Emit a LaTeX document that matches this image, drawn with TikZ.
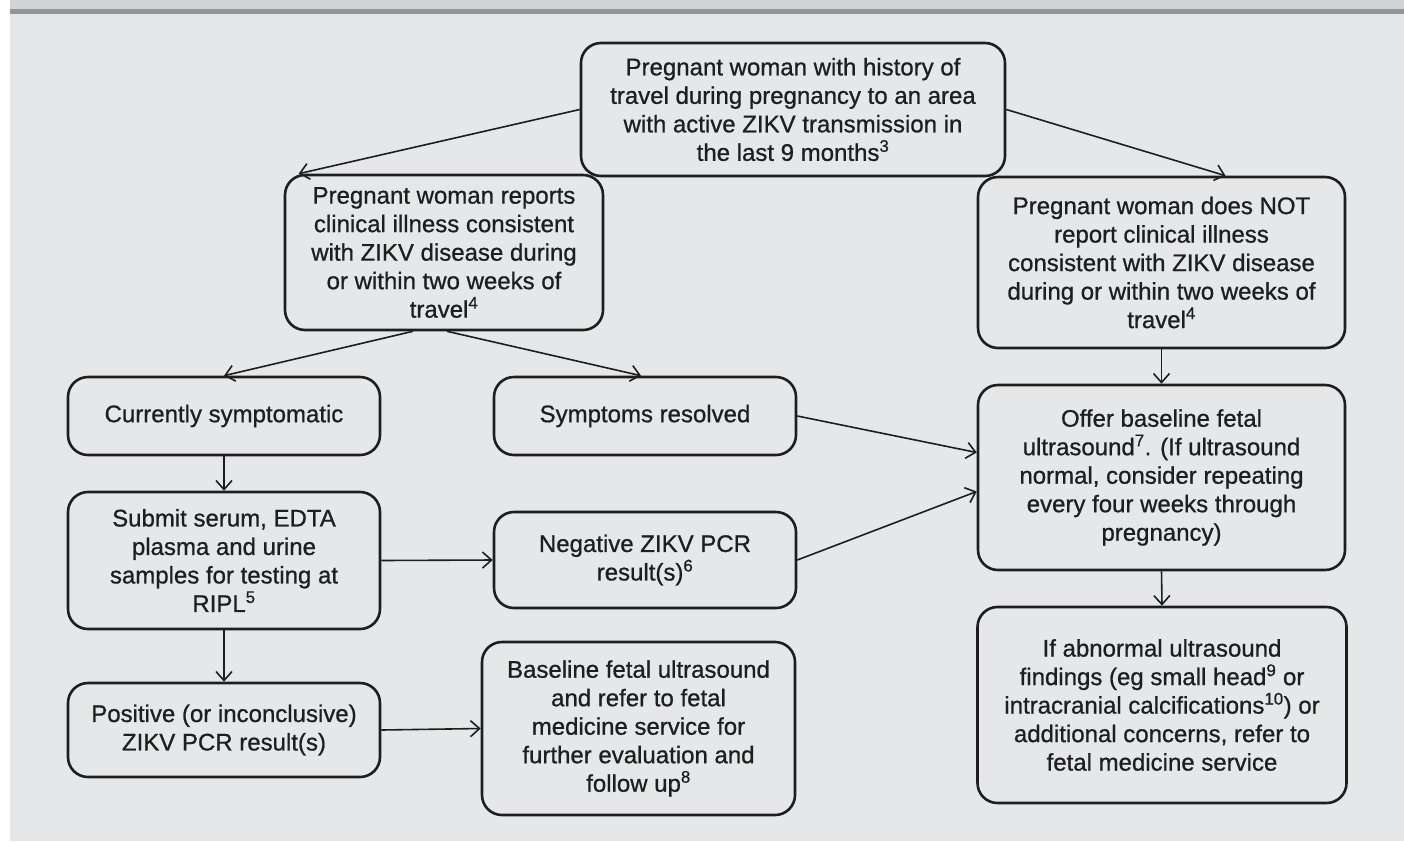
\documentclass[tikz,border=0pt]{standalone}
\usepackage{fontspec}
\setmainfont{Liberation Sans}[RawFeature={embolden=0.8}]
\usetikzlibrary{arrows.meta}
\definecolor{panel}{HTML}{E6E7E9}
\definecolor{strip}{HTML}{D2D3D5}
\definecolor{bar}{HTML}{959595}
\definecolor{ink}{HTML}{1E1E1E}
\tikzstyle{box} = [rectangle, rounded corners=20pt, draw=ink, line width=2.6pt, text=ink, align=center, inner sep=0pt, font=\fontsize{24}{28.5}\selectfont]
\tikzstyle{arrow} = [draw=ink, line width=1.6pt, -{Straight Barb[length=9pt,width=16pt]}]

\begin{document}
\begin{tikzpicture}[x=1pt,y=-1pt]
	\useasboundingbox (0,0) rectangle (1404,841);
	\fill[white] (0,0) rectangle (1404,841);
	\fill[strip] (10,0) rectangle (1404,9);
	\fill[bar] (10,9) rectangle (1404,14);
	\fill[panel] (10,14) rectangle (1404,841);
	\node[box, minimum width=424pt, minimum height=133pt] (travel) at (793,109.5) {Pregnant woman with history of\\travel during pregnancy to an area\\with active ZIKV transmission in\\the last 9 months\textsuperscript{3}};
	\node[box, minimum width=318pt, minimum height=155pt] (ill) at (444,252.5) {Pregnant woman reports\\clinical illness consistent\\with ZIKV disease during\\or within two weeks of\\travel\textsuperscript{4}};
	\node[box, minimum width=367pt, minimum height=171pt] (noill) at (1161.5,262.5) {Pregnant woman does NOT\\report clinical illness\\consistent with ZIKV disease\\during or within two weeks of\\travel\textsuperscript{4}};
	\node[box, minimum width=312pt, minimum height=78pt] (symp) at (224,416) {Currently symptomatic};
	\node[box, minimum width=302pt, minimum height=78pt] (resolved) at (645,416) {Symptoms resolved};
	\node[box, minimum width=367pt, minimum height=185pt] (offer) at (1161.5,477.5) {Offer baseline fetal\\ultrasound\textsuperscript{7}. (If ultrasound\\normal, consider repeating\\every four weeks through\\pregnancy)};
	\node[box, minimum width=312pt, minimum height=137pt] (submit) at (224,560.5) {Submit serum, EDTA\\plasma and urine\\samples for testing at\\RIPL\textsuperscript{5}};
	\node[box, minimum width=302pt, minimum height=96pt] (neg) at (645,560) {Negative ZIKV PCR\\result(s)\textsuperscript{6}};
	\node[box, minimum width=312pt, minimum height=94pt] (pos) at (224,730) {Positive (or inconclusive)\\ZIKV PCR result(s)};
	\node[box, minimum width=313pt, minimum height=173pt] (baseline) at (638.5,728.5) {Baseline fetal ultrasound\\and refer to fetal\\medicine service for\\further evaluation and\\follow up\textsuperscript{8}};
	\node[box, minimum width=369pt, minimum height=196pt] (abnormal) at (1162,705) {If abnormal ultrasound\\findings (eg small head\textsuperscript{9} or\\intracranial calcifications\textsuperscript{10}) or\\additional concerns, refer to\\fetal medicine service};
	\draw[arrow] (travel.west) -- ([xshift=15pt]ill.north west);
	\draw[arrow] (travel.east) -- ([xshift=64pt]noill.north);
	\draw[arrow] ([xshift=-31pt]ill.south) -- (symp.north);
	\draw[arrow] ([xshift=3pt]ill.south) -- ([xshift=-4pt]resolved.north);
	\draw[arrow] (noill.south) -- (offer.north);
	\draw[arrow] (resolved.east) -- ([yshift=25pt]offer.west);
	\draw[arrow] (neg.east) -- ([yshift=-14pt]offer.west);
	\draw[arrow] (symp.south) -- (submit.north);
	\draw[arrow] (submit.east) -- (neg.west);
	\draw[arrow] (submit.south) -- (pos.north);
	\draw[arrow] (pos.east) -- (baseline.west);
	\draw[arrow] (offer.south) -- (abnormal.north);
\end{tikzpicture}
\end{document}
